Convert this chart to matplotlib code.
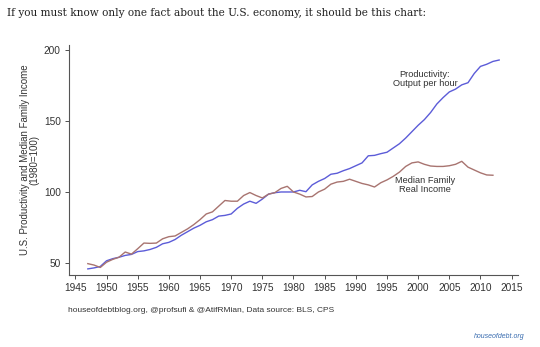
import matplotlib.pyplot as plt

# U.S. productivity (output per hour) and median family real income, 1980 = 100
prod_years = list(range(1947, 2014))
productivity = [45.8, 46.5, 47.5, 51.5, 53.0, 54.0, 55.3, 56.0, 58.0, 58.5,
                59.5, 61.0, 63.5, 64.5, 66.5, 69.5, 72.0, 74.5, 76.5, 79.0,
                80.5, 83.0, 83.5, 84.5, 88.5, 91.5, 93.5, 92.0, 95.0, 98.5,
                99.5, 100.0, 100.0, 100.0, 101.2, 100.2, 105.0, 107.5, 109.5, 112.5,
                113.2, 115.0, 116.5, 118.5, 120.5, 125.5, 125.8, 127.0, 128.0, 131.0,
                134.0, 138.0, 142.5, 147.0, 151.0, 156.0, 162.0, 166.5, 170.5, 172.5,
                175.5, 177.0, 183.5, 188.5, 190.0, 192.0, 193.0]

inc_years = list(range(1947, 2013))
income = [49.5, 48.5, 46.8, 50.5, 52.5, 54.0, 57.7, 56.2, 60.0, 64.0,
          63.8, 64.0, 67.0, 68.5, 69.0, 71.5, 74.0, 77.0, 80.5, 84.5,
          86.0, 90.0, 94.0, 93.5, 93.5, 97.5, 99.6, 97.5, 95.8, 98.5,
          99.5, 102.5, 104.0, 100.0, 98.5, 96.5, 96.8, 100.0, 102.0, 105.5,
          107.0, 107.5, 109.0, 107.5, 106.0, 105.0, 103.5, 106.5, 108.5, 111.0,
          114.0, 118.0, 120.5, 121.2, 119.5, 118.3, 118.0, 118.0, 118.5, 119.5,
          121.6, 117.5, 115.5, 113.5, 112.0, 111.8]

xticks = list(range(1945, 2016, 5))
yticks = [50, 100, 150, 200]

plt.rcParams['font.family'] = ['Liberation Sans', 'DejaVu Sans']

fig = plt.figure(figsize=(5.4, 3.47), dpi=100)
ax = fig.add_axes([0.128, 0.2075, 0.831, 0.6625])

ax.plot(prod_years, productivity, color='#5c5cd8', lw=1.0)
ax.plot(inc_years, income, color='#a87470', lw=1.0)

ax.set_xlim(1944.0, 2016.0)
ax.set_ylim(41.5, 203.5)
ax.set_xticks(xticks)
ax.set_yticks(yticks)
ax.tick_params(labelsize=7.3, colors='#333333', length=3, width=0.6, pad=3)
for s in ['top', 'right']:
    ax.spines[s].set_visible(False)
for s in ['left', 'bottom']:
    ax.spines[s].set_color('#555555')
    ax.spines[s].set_linewidth(0.8)

ax.set_ylabel('U.S. Productivity and Median Family Income\n(1980=100)',
              fontsize=7, color='#333333', labelpad=3, linespacing=0.95)

ax.text(2001.1, 179.5, 'Productivity:\nOutput per hour', fontsize=6.7,
        color='#333333', ha='center', va='center', linespacing=0.95)
ax.text(2001.1, 104.7, 'Median Family\nReal Income', fontsize=6.7,
        color='#333333', ha='center', va='center', linespacing=0.95)

fig.text(7 / 540, 1 - 12.5 / 347,
         'If you must know only one fact about the U.S. economy, it should be this chart:',
         fontsize=7.6, family='DejaVu Serif', color='#222222', va='center')
fig.text(68 / 540, 1 - 311 / 347,
         'houseofdebtblog.org, @profsufi & @AtifRMian, Data source: BLS, CPS',
         fontsize=6, color='#333333', va='center')
fig.text(525 / 540, 1 - 337 / 347, 'houseofdebt.org', fontsize=5,
         style='italic', color='#3a6db0', ha='right', va='center')

fig.savefig('out.png', dpi=100)
